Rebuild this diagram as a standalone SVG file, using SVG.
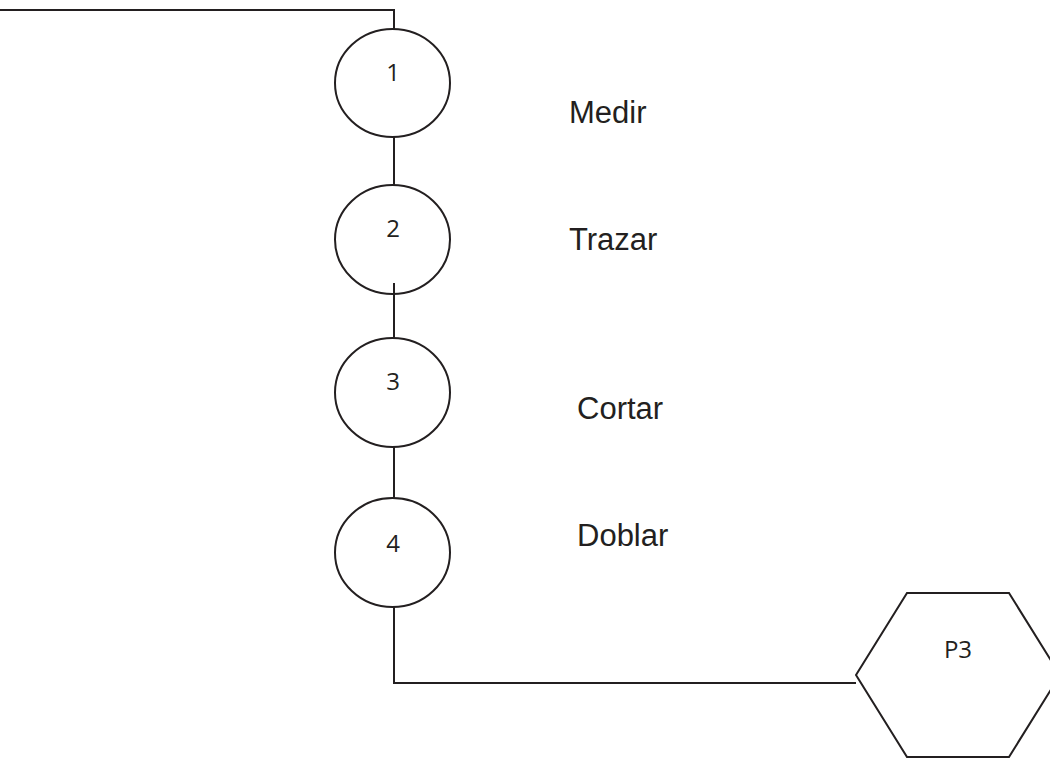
<svg xmlns="http://www.w3.org/2000/svg" width="1050" height="758" viewBox="0 0 1050 758">
<style>
.ln{fill:none;stroke:#231f20;stroke-width:2}
.nd{fill:none;stroke:#231f20;stroke-width:2}
.num{font-family:"Open Sans","Liberation Sans",sans-serif;font-size:24px;fill:#231f20;text-anchor:middle}
.lbl{font-family:"Liberation Sans",Arial,sans-serif;font-size:31px;fill:#231f20}
</style>
<rect width="1050" height="758" fill="#fff"/>
<g id="node1">
<ellipse class="nd" cx="392.5" cy="83" rx="57.5" ry="54"/>
<text class="num" x="393" y="81">1</text>
</g>
<g id="node2">
<ellipse class="nd" cx="392.5" cy="239.5" rx="57.5" ry="54.5"/>
<text class="num" x="393" y="237">2</text>
</g>
<g id="node3">
<ellipse class="nd" cx="392.5" cy="392.5" rx="57.5" ry="54.5"/>
<text class="num" x="393" y="390">3</text>
</g>
<g id="node4">
<ellipse class="nd" cx="392.5" cy="552.5" rx="57.5" ry="54.5"/>
<text class="num" x="393" y="552">4</text>
</g>
<g id="p3">
<polygon class="nd" points="907,593 1009,593 1060,675 1009,757 907,757 856,675"/>
<text class="num" x="958" y="658">P3</text>
</g>
<g id="connectors">
<polyline class="ln" points="0,10 394,10 394,29"/>
<line class="ln" x1="394" y1="137" x2="394" y2="185"/>
<line class="ln" x1="394" y1="283" x2="394" y2="338"/>
<line class="ln" x1="394" y1="447" x2="394" y2="498"/>
<polyline class="ln" points="394,607 394,683 856,683"/>
</g>
<g id="labels">
<text class="lbl" x="569" y="123">Medir</text>
<text class="lbl" x="569" y="250">Trazar</text>
<text class="lbl" x="577" y="419">Cortar</text>
<text class="lbl" x="577" y="546">Doblar</text>
</g>
</svg>
